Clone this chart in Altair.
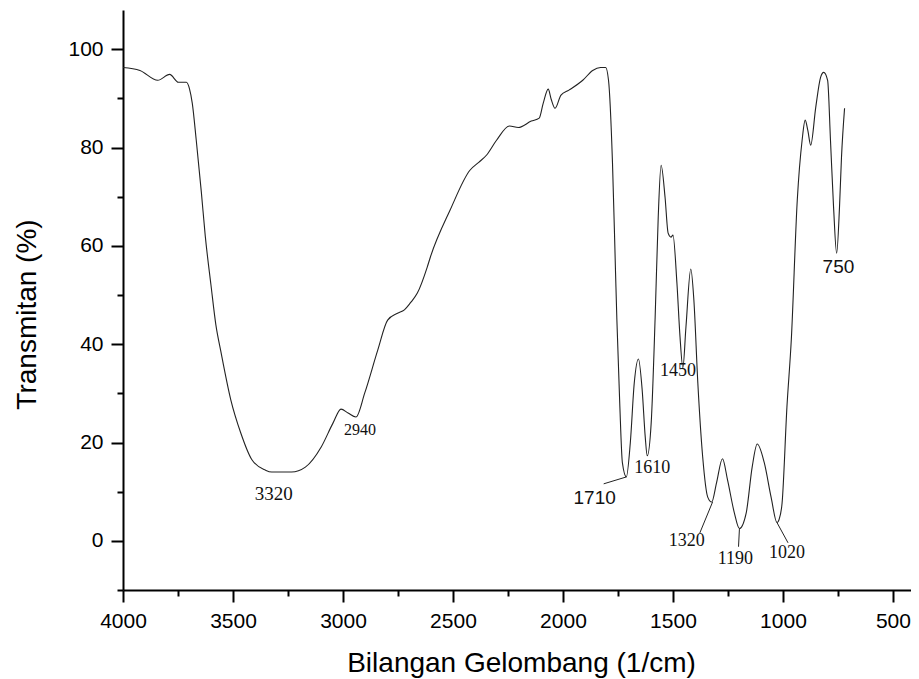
import altair as alt
import pandas as pd

# Spectrum trace (wavenumber 1/cm, transmittance %)
wavenumber = [4000, 3923, 3842, 3788, 3748, 3712, 3698, 3685, 3667, 3644, 3626, 3600, 3578, 3555,
              3510, 3465, 3414, 3353, 3324, 3234, 3171, 3099, 3045, 3009, 2977, 2941, 2901, 2842, 2797,
              2752, 2721, 2694, 2662, 2617, 2603, 2513, 2423, 2383, 2347, 2302, 2243, 2203, 2144,
              2108, 2090, 2067, 2054, 2036, 2009, 1973, 1910, 1865, 1829, 1806, 1793, 1775, 1761,
              1755, 1742, 1730, 1712, 1694, 1676, 1657, 1640, 1626, 1617, 1599, 1581, 1567, 1554,
              1536, 1522, 1509, 1500, 1482, 1468, 1455, 1441, 1419, 1405, 1387, 1365, 1342, 1324,
              1302, 1275, 1252, 1221, 1198, 1167, 1140, 1117, 1085, 1054, 1027, 1018, 1004, 982,
              962, 935, 913, 899, 887, 874, 851, 829, 815, 797, 784, 770, 756, 743, 734, 720]
transmittance = [96.3, 95.7, 93.7, 94.9, 93.3, 93.3, 92.0, 89.0, 81.5, 71.0, 62.0, 52.0, 44.0, 38.5,
                 28.7, 22.0, 16.5, 14.4, 14.0, 14.0, 15.0, 19.1, 24.0, 26.8, 26.0, 25.2, 30.1, 38.8, 44.9,
                 46.3, 47.0, 48.4, 50.4, 55.7, 57.7, 67.3, 75.4, 77.0, 78.5, 81.5, 84.4, 84.1, 85.4,
                 86.0, 89.0, 91.9, 89.9, 88.0, 90.7, 91.7, 93.7, 95.7, 96.3, 96.3, 93.7, 77.0, 54.5,
                 45.0, 28.0, 15.9, 13.0, 19.9, 32.1, 37.0, 30.7, 21.1, 17.3, 24.0, 45.5, 65.9, 76.4,
                 69.9, 62.6, 61.8, 62.2, 52.4, 41.5, 35.2, 43.5, 55.3, 49.0, 32.1, 17.1, 8.9, 7.9,
                 11.8, 16.7, 12.4, 5.7, 2.5, 5.7, 15.0, 19.7, 15.9, 8.9, 3.7, 4.3, 7.7, 27.2,
                 41.0, 69.3, 81.5, 85.6, 83.5, 80.5, 88.2, 94.3, 95.3, 93.7, 81.5, 67.9, 58.5, 67.9, 78.0, 88.0]

# Peak labels set in serif type
serif_text = ["3320", "2940", "1610", "1450", "1320", "1190", "1020"]
serif_x = [3315, 2923, 1594, 1477, 1437, 1216, 982]
serif_y = [9.6, 22.6, 14.8, 34.6, 0.0, -3.7, -2.4]
serif_size = [19, 16, 18, 18, 18, 18, 18]

# Peak labels set in sans type
sans_text = ["1710", "750"]
sans_x = [1856, 748]
sans_y = [8.7, 55.7]
sans_size = [19, 19]

# Leader lines
lead_x = [1815, 1378, 1202, 977]
lead_y = [11.6, 1.6, -1.2, -0.4]
lead_x2 = [1712, 1320, 1198, 1027]
lead_y2 = [13.0, 7.9, 2.4, 3.7]

x_major = [4000, 3500, 3000, 2500, 2000, 1500, 1000, 500]
x_minor = [3750, 3250, 2750, 2250, 1750, 1250, 750]
y_major = [0, 20, 40, 60, 80, 100]
y_minor = [-10, 10, 30, 50, 70, 90]

spec = pd.DataFrame({"wn": wavenumber, "t": transmittance})
serif_df = pd.DataFrame({"txt": serif_text, "x": serif_x, "y": serif_y, "size": serif_size})
sans_df = pd.DataFrame({"txt": sans_text, "x": sans_x, "y": sans_y, "size": sans_size})
leads = pd.DataFrame({"x": lead_x, "y": lead_y, "x2": lead_x2, "y2": lead_y2})

xs = alt.Scale(domain=[418, 4000], reverse=True, nice=False, zero=False)
ys = alt.Scale(domain=[-10, 108], nice=False, zero=False)

FONT = "Liberation Sans"

main = alt.Chart(spec).mark_line(color="#222222", strokeWidth=1.1, interpolate="monotone").encode(
    x=alt.X("wn:Q", scale=xs, title="Bilangan Gelombang (1/cm)",
            axis=alt.Axis(orient="bottom", values=x_major, tickSize=12, tickWidth=2, domainWidth=2,
                          domainColor="black", tickColor="black", labelColor="black",
                          labelFont=FONT, labelFontSize=21, labelPadding=8, grid=False,
                          titleFont=FONT, titleFontSize=28, titleFontWeight="normal",
                          titleColor="black", titleBaseline="alphabetic", titleX=398, titleY=81,
                          labelFlush=False, format="d")),
    y=alt.Y("t:Q", scale=ys, title="Transmitan (%)",
            axis=alt.Axis(orient="left", values=y_major, tickSize=12, tickWidth=2, domainWidth=2,
                          domainColor="black", tickColor="black", labelColor="black",
                          labelFont=FONT, labelFontSize=21, labelPadding=8, grid=False,
                          titleFont=FONT, titleFontSize=28, titleFontWeight="normal",
                          titleColor="black", titleBaseline="alphabetic", titleX=-88, titleY=304,
                          titleAngle=270, labelFlush=False)),
)

minor = alt.Chart(spec).mark_line(opacity=0).encode(
    x=alt.X("wn:Q", scale=xs, title=None,
            axis=alt.Axis(orient="bottom", values=x_minor, tickSize=6, tickWidth=2, domain=False,
                          labels=False, grid=False, tickColor="black")),
    y=alt.Y("t:Q", scale=ys, title=None,
            axis=alt.Axis(orient="left", values=y_minor, tickSize=6, tickWidth=2, domain=False,
                          labels=False, grid=False, tickColor="black")),
)

rules = alt.Chart(leads).mark_rule(color="#222222", strokeWidth=1).encode(
    x=alt.X("x:Q", scale=xs, axis=None),
    y=alt.Y("y:Q", scale=ys, axis=None),
    x2="x2:Q",
    y2="y2:Q",
)

serif_layer = alt.Chart(serif_df).mark_text(baseline="middle", align="center", color="#111111",
                                            font="Liberation Serif").encode(
    x=alt.X("x:Q", scale=xs, axis=None),
    y=alt.Y("y:Q", scale=ys, axis=None),
    text="txt:N",
    size=alt.Size("size:Q", scale=None, legend=None),
)

sans_layer = alt.Chart(sans_df).mark_text(baseline="middle", align="center", color="#111111",
                                          font="Liberation Sans").encode(
    x=alt.X("x:Q", scale=xs, axis=None),
    y=alt.Y("y:Q", scale=ys, axis=None),
    text="txt:N",
    size=alt.Size("size:Q", scale=None, legend=None),
)

chart = alt.layer(main, minor, rules, serif_layer, sans_layer).resolve_axis(
    x="independent", y="independent"
).properties(
    width=788, height=580,
    padding={"left": 115, "top": 2, "right": 0, "bottom": 89},
    autosize=alt.AutoSizeParams(type="none"),
    background="white",
).configure_view(stroke=None)

chart.save("out.html", embed_options={"renderer": "svg", "actions": False})
